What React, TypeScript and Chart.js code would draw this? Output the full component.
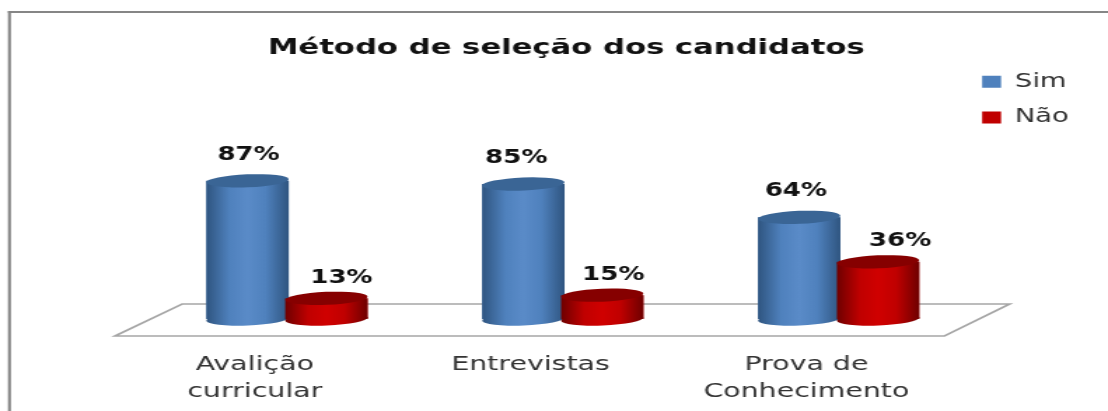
import React, { useEffect, useRef } from "react";
import { Chart, registerables } from "chart.js";

Chart.register(...registerables);

const categories = [["Avalição", "curricular"], "Entrevistas", ["Prova de", "Conhecimento"]];
const sim = [87, 85, 64];
const nao = [13, 15, 36];
const simLabelNudge = [0.7, -5, -2.4];
const naoLabelNudge = [10.7, 7.9, 15.7];

const FONT = "'DejaVu Sans', Verdana, sans-serif";
// The reference is a picture stretched sideways: the canvas is drawn narrower and shown at full width.
const DRAW_WIDTH = 791;
const SHOW_WIDTH = 1108;
const HEIGHT = 411;

const palette: any = {
  Sim: { solid: "#4f81bd", dark: "#2f5580", mid: "#5a8bc8", top: "#3a6595" },
  "Não": { solid: "#c00000", dark: "#6e0000", mid: "#d00000", top: "#860000" },
};

function sideGradient(chart: any, left: number, right: number, c: any) {
  const g = chart.ctx.createLinearGradient(left, 0, right, 0);
  g.addColorStop(0, c.dark);
  g.addColorStop(0.28, c.solid);
  g.addColorStop(0.5, c.mid);
  g.addColorStop(0.72, c.solid);
  g.addColorStop(1, c.dark);
  return g;
}

const floorPlugin = {
  id: "floor",
  beforeDatasetsDraw(chart: any) {
    const { ctx, chartArea: a } = chart;
    const front = a.bottom + 17;
    const back = a.bottom - 15;
    ctx.save();
    ctx.strokeStyle = "#a6a6a6";
    ctx.lineWidth = 1.7;
    ctx.beginPath();
    ctx.moveTo(a.left + 23.6, back);
    ctx.lineTo(a.right + 23.6, back);
    ctx.lineTo(a.right - 22.9, front);
    ctx.lineTo(a.left - 24.3, front);
    ctx.closePath();
    ctx.stroke();
    ctx.restore();
  },
};

const framePlugin = {
  id: "frame",
  afterLayout(chart: any) {
    chart.legend.left -= 12;
    chart.legend.top += 21;
  },
  beforeDraw(chart: any) {
    const { ctx, width, height } = chart;
    ctx.save();
    ctx.fillStyle = "#ffffff";
    ctx.fillRect(0, 0, width, height);
    ctx.fillStyle = "#868686";
    ctx.fillRect(5.7, 11, width - 5.7, 2);
    ctx.fillRect(5.7, 11, 2.1, height - 11);
    ctx.restore();
  },
};

const cylinderPlugin = {
  id: "cylinder",
  afterDatasetsDraw(chart: any) {
    const { ctx } = chart;
    const tilt = -0.056;
    chart.data.datasets.forEach((ds: any, i: number) => {
      const c = palette[ds.label];
      chart.getDatasetMeta(i).data.forEach((bar: any) => {
        const rx = bar.width / 2;
        ctx.save();
        ctx.fillStyle = sideGradient(chart, bar.x - rx, bar.x + rx, c);
        ctx.beginPath();
        ctx.ellipse(bar.x, bar.base, rx, 6.5, tilt, 0, Math.PI * 2);
        ctx.fill();
        ctx.fillRect(bar.x - rx, bar.y, bar.width, bar.base - bar.y);
        ctx.fillStyle = c.top;
        ctx.beginPath();
        ctx.ellipse(bar.x, bar.y, rx, 6.5, tilt, 0, Math.PI * 2);
        ctx.fill();
        ctx.restore();
      });
    });
  },
};

const valueLabelPlugin = {
  id: "valueLabels",
  afterDraw(chart: any) {
    const { ctx } = chart;
    ctx.save();
    ctx.fillStyle = "#111111";
    ctx.font = `bold 18.6px ${FONT}`;
    ctx.textAlign = "center";
    ctx.textBaseline = "middle";
    chart.data.datasets.forEach((ds: any, i: number) => {
      const nudge = i === 0 ? simLabelNudge : naoLabelNudge;
      chart.getDatasetMeta(i).data.forEach((bar: any, j: number) => {
        const rise = i === 0 ? 26 : 20.5;
        ctx.fillText(`${ds.data[j]}%`, bar.x + nudge[j], bar.y - rise);
      });
    });
    ctx.restore();
  },
};

export default function App() {
  const ref = useRef<HTMLCanvasElement>(null);
  useEffect(() => {
    document.body.style.margin = "0";
    const chart = new Chart(ref.current!, {
      type: "bar",
      data: {
        labels: categories as any,
        datasets: [
          { label: "Sim", data: sim, backgroundColor: palette.Sim.solid },
          { label: "Não", data: nao, backgroundColor: palette["Não"].solid },
        ],
      },
      plugins: [framePlugin, floorPlugin, cylinderPlugin, valueLabelPlugin],
      options: {
        responsive: false,
        animation: false,
        layout: { padding: { left: 23.5, right: 5.9, top: 35, bottom: 0 } },
        datasets: { bar: { categoryPercentage: 0.572, barPercentage: 1.044 } },
        scales: {
          x: {
            grid: { display: false, drawTicks: false },
            border: { display: false },
            ticks: {
              color: "#333333",
              font: { family: FONT, size: 20.3, lineHeight: 1.33 },
              padding: 32,
              labelOffset: -23,
              maxRotation: 0,
              autoSkip: false,
            },
            afterFit: (s: any) => {
              s.height = 92;
            },
          },
          y: {
            min: 0,
            max: 158.5,
            grid: { display: false, drawTicks: false },
            border: { display: false },
            ticks: { display: false },
            afterFit: (s: any) => {
              s.width = 82.9;
            },
          },
        },
        plugins: {
          tooltip: { enabled: false },
          title: {
            display: true,
            text: "Método de seleção dos candidatos",
            color: "#111111",
            font: { family: FONT, size: 21.9, weight: "bold" },
            padding: { top: 0, bottom: 6 },
          },
          legend: {
            position: "right",
            align: "start",
            labels: {
              color: "#333333",
              font: { family: FONT, size: 19.6 },
              boxWidth: 13.5,
              boxHeight: 12,
              padding: 16,
            },
          },
        },
      } as any,
    });
    return () => chart.destroy();
  }, []);
  return (
    <canvas
      ref={ref}
      width={DRAW_WIDTH}
      height={HEIGHT}
      style={{ display: "block", width: SHOW_WIDTH, height: HEIGHT }}
    />
  );
}
